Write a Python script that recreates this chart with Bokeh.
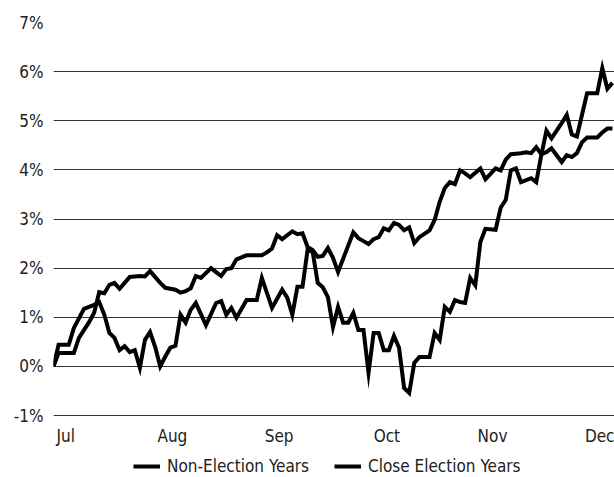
from bokeh.plotting import figure
from bokeh.models import Range1d, FixedTicker, Legend, LegendItem
from bokeh.embed import file_html
from bokeh.resources import INLINE

# Trading-day index and cumulative return (%) from July start
non_days = [0, 1, 4, 5, 7, 8, 9, 10, 11, 12, 13, 14, 15, 17, 18, 19, 21, 22, 24, 25,
            26, 27, 28, 29, 31, 32, 33, 34, 35, 36, 38, 41, 42, 43, 44, 45, 47, 48, 49, 50,
            51, 52, 53, 54, 55, 56, 59, 60, 61, 62, 63, 64, 65, 66, 67, 68, 69, 70, 71, 72,
            74, 75, 76, 77, 78, 79, 80, 81, 82, 84, 85, 86, 87, 88, 89, 90, 91, 92, 93, 94,
            95, 96, 97, 98, 100, 101, 102, 103, 104, 105, 107, 108, 109, 110]
non_vals = [0.00, 0.27, 0.27, 0.58, 0.90, 1.09, 1.51, 1.49, 1.66, 1.70, 1.58, 1.70, 1.82, 1.84, 1.83, 1.94, 1.70, 1.60, 1.56, 1.50,
            1.53, 1.59, 1.84, 1.80, 2.00, 1.92, 1.84, 1.98, 2.00, 2.18, 2.26, 2.26, 2.32, 2.40, 2.67, 2.59, 2.75, 2.69, 2.71, 2.43,
            2.37, 2.23, 2.25, 2.41, 2.21, 1.92, 2.73, 2.61, 2.55, 2.49, 2.59, 2.63, 2.81, 2.77, 2.92, 2.88, 2.77, 2.83, 2.51, 2.63,
            2.77, 2.98, 3.35, 3.63, 3.75, 3.71, 3.99, 3.93, 3.85, 4.03, 3.81, 3.92, 4.03, 3.99, 4.21, 4.32, 4.33, 4.34, 4.36, 4.34,
            4.46, 4.32, 4.36, 4.44, 4.16, 4.30, 4.26, 4.34, 4.56, 4.66, 4.66, 4.76, 4.84, 4.84]

close_days = [0, 1, 3, 4, 6, 7, 8, 9, 10, 11, 12, 13, 14, 15, 16, 17, 18, 19, 20, 21,
              22, 23, 24, 25, 26, 27, 28, 30, 32, 33, 34, 35, 36, 38, 40, 41, 43, 45, 46, 47,
              48, 49, 50, 51, 52, 53, 54, 55, 56, 57, 58, 59, 60, 61, 62, 63, 64, 65, 66, 67,
              68, 69, 70, 71, 72, 74, 75, 76, 77, 78, 79, 80, 81, 82, 83, 84, 85, 87, 88, 89,
              90, 91, 92, 94, 95, 96, 97, 98, 100, 101, 102, 103, 105, 107, 108, 109, 110]
close_vals = [0.00, 0.44, 0.44, 0.78, 1.17, 1.21, 1.25, 1.31, 1.05, 0.68, 0.58, 0.33, 0.41, 0.29, 0.33, -0.03, 0.54, 0.70, 0.40, 0.00,
              0.20, 0.38, 0.42, 1.05, 0.89, 1.15, 1.29, 0.84, 1.29, 1.33, 1.05, 1.19, 0.99, 1.35, 1.35, 1.80, 1.19, 1.56, 1.40, 1.05,
              1.62, 1.62, 2.37, 2.33, 1.70, 1.61, 1.41, 0.80, 1.21, 0.89, 0.89, 1.09, 0.74, 0.74, -0.13, 0.68, 0.68, 0.33, 0.33, 0.62,
              0.38, -0.44, -0.54, 0.07, 0.19, 0.19, 0.68, 0.54, 1.21, 1.11, 1.35, 1.31, 1.29, 1.80, 1.65, 2.53, 2.80, 2.78, 3.23, 3.39,
              3.99, 4.03, 3.75, 3.83, 3.75, 4.30, 4.80, 4.64, 4.95, 5.12, 4.72, 4.68, 5.56, 5.56, 6.07, 5.65, 5.77]

month_ticks = [2.4, 23.4, 44.4, 65.6, 86.4, 107.5]
month_labels = ["Jul", "Aug", "Sep", "Oct", "Nov", "Dec"]
y_ticks = [-1, 0, 1, 2, 3, 4, 5, 6, 7]
series_names = ["Non-Election Years", "Close Election Years"]

FONT = "DejaVu Sans Condensed"
TXT = "#222222"

W, H = 614, 477
TOP, LEFT, GRID_BOTTOM = 22, 53, 415
per_pct = (GRID_BOTTOM - TOP) / 8.0
y_lo = -1 - (H - GRID_BOTTOM) / per_pct

p = figure(width=W, height=H, output_backend="svg", toolbar_location=None,
           x_range=Range1d(0, 110.4), y_range=Range1d(y_lo, 7),
           min_border_left=LEFT, min_border_right=0, min_border_top=TOP, min_border_bottom=0)
p.outline_line_color = None
p.background_fill_color = "white"
p.border_fill_color = "white"

r1 = p.line(non_days, non_vals, line_color="black", line_width=4, line_join="miter")
r2 = p.line(close_days, close_vals, line_color="black", line_width=4, line_join="miter")

p.xgrid.grid_line_color = None
p.ygrid.grid_line_color = "#333333"
p.ygrid.grid_line_width = 1

p.yaxis.ticker = FixedTicker(ticks=y_ticks)
p.yaxis.major_label_overrides = {t: f"{t}%" for t in y_ticks}
p.xaxis.ticker = FixedTicker(ticks=month_ticks)
p.xaxis.major_label_overrides = {t: l for t, l in zip(month_ticks, month_labels)}
p.xaxis.fixed_location = -1

for ax in (p.xaxis[0], p.yaxis[0]):
    ax.axis_line_color = None
    ax.major_tick_line_color = None
    ax.minor_tick_line_color = None
    ax.major_tick_out = 0
    ax.major_tick_in = 0
    ax.major_label_text_font = FONT
    ax.major_label_text_font_size = "17px"
    ax.major_label_text_color = TXT
    ax.major_label_standoff = 10

legend = Legend(items=[LegendItem(label=series_names[0], renderers=[r1]),
                       LegendItem(label=series_names[1], renderers=[r2])],
                orientation="horizontal", location=(80, 1))
legend.padding = 0
legend.margin = 0
legend.spacing = 25
legend.glyph_width = 27
legend.glyph_height = 20
legend.label_height = 20
legend.label_standoff = 7
legend.label_text_font = FONT
legend.label_text_font_size = "17px"
legend.label_text_color = TXT
legend.border_line_color = None
legend.background_fill_alpha = 0
p.add_layout(legend, "center")

open("out.html", "w").write(file_html(p, INLINE))
